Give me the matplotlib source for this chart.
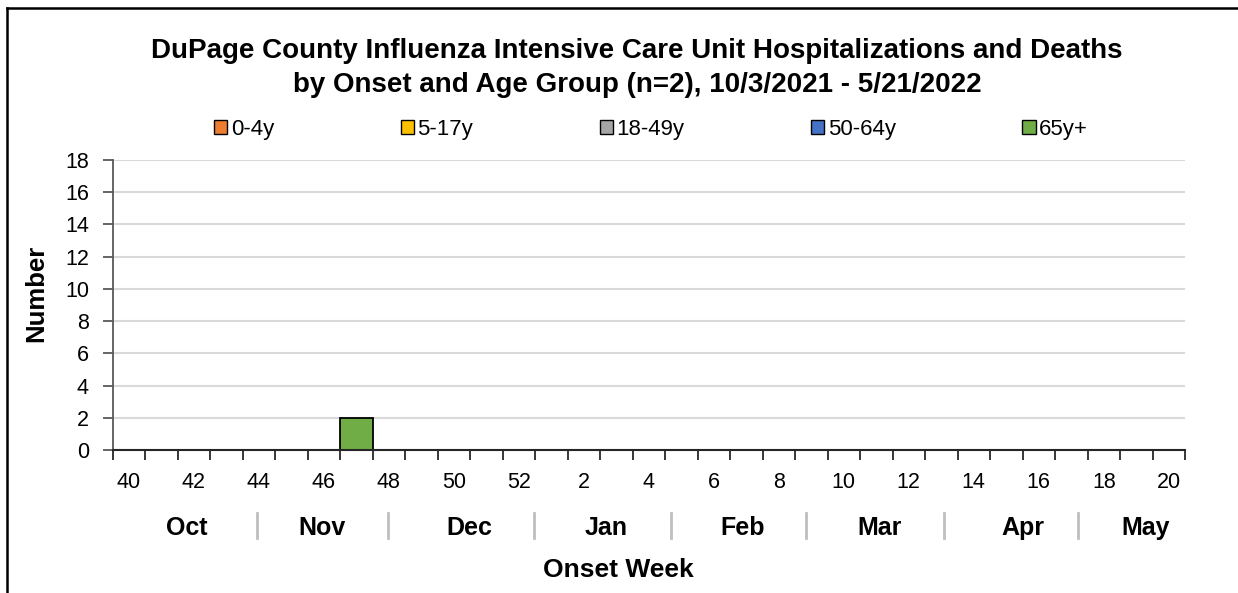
import matplotlib
matplotlib.use("Agg")
import matplotlib.pyplot as plt
from matplotlib.transforms import blended_transform_factory
from matplotlib.lines import Line2D
import numpy as np

plt.rcParams['font.family'] = ['Liberation Sans', 'DejaVu Sans']

# ---- data ----
weeks = [40, 41, 42, 43, 44, 45, 46, 47, 48, 49, 50, 51, 52,
         1, 2, 3, 4, 5, 6, 7, 8, 9, 10, 11, 12, 13, 14, 15, 16, 17, 18, 19, 20]
age_groups = ["0-4y", "5-17y", "18-49y", "50-64y", "65y+"]
colors = ["#ED7D31", "#FFC000", "#A5A5A5", "#4472C4", "#70AD47"]
n = len(weeks)
v_0_4 = [0] * n
v_5_17 = [0] * n
v_18_49 = [0] * n
v_50_64 = [0] * n
v_65 = [0] * n
v_65[weeks.index(47)] = 2
series = [v_0_4, v_5_17, v_18_49, v_50_64, v_65]

months = ["Oct", "Nov", "Dec", "Jan", "Feb", "Mar", "Apr", "May"]
month_label_pos = [1.78, 5.96, 10.48, 14.7, 18.88, 23.1, 27.5, 31.28]
month_sep_pos = [3.96, 7.99, 12.48, 16.67, 20.85, 25.07, 29.22]

title1 = "DuPage County Influenza Intensive Care Unit Hospitalizations and Deaths"
title2 = "by Onset and Age Group (n=2), 10/3/2021 - 5/21/2022"

# ---- figure ----
W, H = 1238, 593
fig = plt.figure(figsize=(W / 100, H / 100), dpi=100)
ax = fig.add_axes([112.5 / W, 1 - 450 / H, (1185 - 112.5) / W, (450 - 160) / H])

x = np.arange(n)
bottom = np.zeros(n)
handles = []
for vals, c, lab in zip(series, colors, age_groups):
    vals = np.array(vals, dtype=float)
    h = ax.bar(x, vals, width=1.0, bottom=bottom, color=c, edgecolor="black",
               linewidth=np.where(vals > 0, 1.3, 0), label=lab, zorder=3)
    bottom += vals
    handles.append(h)

ax.set_xlim(-0.5, n - 0.5)
ax.set_ylim(0, 18)
ax.set_yticks(np.arange(0, 19, 2))
ax.grid(axis="y", color="#D9D9D9", linewidth=1.5, zorder=0)
ax.set_axisbelow(True)

# x ticks: marks at category boundaries, labels at every other category
ax.set_xticks(np.arange(-0.5, n, 1.0))
ax.set_xticklabels([])
ax.tick_params(axis="x", which="major", length=7, width=1.3, color="#262626", direction="out")
ax.set_xticks(x[::2], minor=True)
ax.set_xticklabels([str(w) for w in weeks[::2]], minor=True, fontsize=15.5)
ax.tick_params(axis="x", which="minor", length=0, pad=16)
ax.tick_params(axis="y", length=7, width=1.3, color="#595959", labelsize=15.5, pad=10)

for s in ["top", "right"]:
    ax.spines[s].set_visible(False)
ax.spines["left"].set_color("#595959")
ax.spines["left"].set_linewidth(1.3)
ax.spines["bottom"].set_color("#262626")
ax.spines["bottom"].set_linewidth(1.5)
ax.spines["bottom"].set_zorder(4)

# month labels and separators
tr = blended_transform_factory(ax.transData, fig.transFigure)
for m, p in zip(months, month_label_pos):
    ax.text(p, 1 - 535 / H, m, transform=tr, ha="center", va="baseline",
            fontsize=18, fontweight="bold")
for p in month_sep_pos:
    ax.add_line(Line2D([p, p], [1 - 513 / H, 1 - 538 / H], transform=tr,
                       color="#BFBFBF", linewidth=2, clip_on=False))

fig.text(618 / W, 1 - 577 / H, "Onset Week", ha="center", va="baseline",
         fontsize=19, fontweight="bold")
fig.text(36 / W, 1 - 293 / H, "Number", ha="center", va="center",
         rotation=90, fontsize=18.5, fontweight="bold")

fig.text(637 / W, 1 - 58 / H, title1, ha="center", va="baseline",
         fontsize=20, fontweight="bold")
fig.text(637 / W, 1 - 92 / H, title2, ha="center", va="baseline",
         fontsize=20, fontweight="bold")

leg = fig.legend(handles=handles, labels=age_groups, loc="center",
                 bbox_to_anchor=(651 / W, 1 - 129 / H), ncol=5, frameon=False,
                 fontsize=16, handlelength=0.6, handleheight=0.6,
                 handletextpad=0.15, columnspacing=5.7)
for p in leg.get_patches():
    p.set_linewidth(1.0)
    p.set_edgecolor("black")

# outer frame (top and left edges visible)
fig.add_artist(Line2D([7 / W, 7 / W], [0, 1 - 8 / H], transform=fig.transFigure,
                      color="black", linewidth=1.8))
fig.add_artist(Line2D([7 / W, 1], [1 - 8 / H, 1 - 8 / H], transform=fig.transFigure,
                      color="black", linewidth=1.8))

fig.savefig("out.png", dpi=100)
